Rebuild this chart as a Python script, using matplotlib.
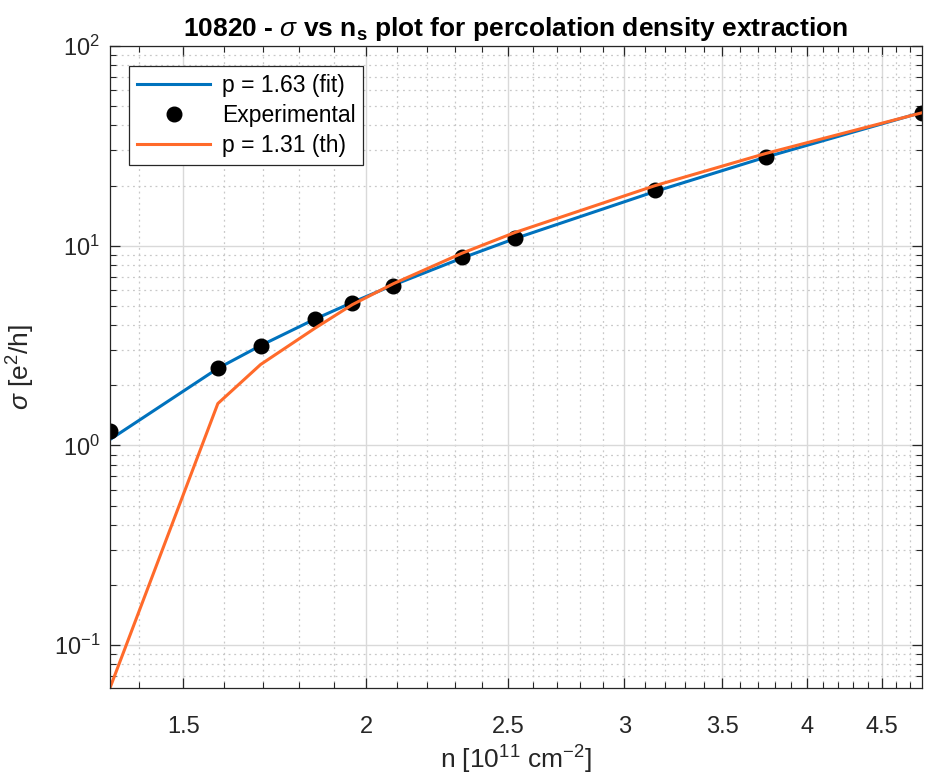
import matplotlib
matplotlib.use("Agg")
import matplotlib.pyplot as plt
from matplotlib.ticker import FixedLocator, FixedFormatter, LogLocator, NullFormatter

plt.rcParams['font.family'] = ['Liberation Sans', 'DejaVu Sans']
plt.rcParams['mathtext.fontset'] = 'custom'
plt.rcParams['mathtext.rm'] = 'Liberation Sans'
plt.rcParams['mathtext.it'] = 'Liberation Sans:italic'
plt.rcParams['mathtext.bf'] = 'Liberation Sans:bold'

# Carrier density [1e11 cm^-2]
n_s = [1.337, 1.584, 1.694, 1.844, 1.957, 2.087, 2.324, 2.527, 3.15, 3.75, 4.79]
# Measured conductivity [e^2/h]
sigma_exp = [1.175, 2.43, 3.13, 4.27, 5.19, 6.31, 8.81, 10.96, 19.05, 27.9, 46.2]
# Percolation fit, p = 1.63
sigma_fit = [1.07, 2.43, 3.16, 4.28, 5.20, 6.35, 8.66, 10.86, 18.7, 27.8, 46.5]
# Theoretical exponent, p = 1.31
sigma_th = [0.061, 1.62, 2.54, 3.85, 5.07, 6.45, 9.16, 11.65, 20.0, 29.0, 46.3]

x_ticks = [1.5, 2, 2.5, 3, 3.5, 4, 4.5]
x_tick_labels = ['1.5', '2', '2.5', '3', '3.5', '4', '4.5']

dark = '#262626'
fig = plt.figure(figsize=(9.28, 7.78), dpi=100)
ax = fig.add_axes([0.1185, 0.1157, 0.8750, 0.8252])

ax.plot(n_s, sigma_fit, color='#0072BD', lw=2.2, label='p = 1.63 (fit)')
ax.plot(n_s, sigma_exp, 'o', color='black', ms=10.5, label='Experimental')
ax.plot(n_s, sigma_th, color='#FF6A2A', lw=2.2, label='p = 1.31 (th)')

ax.set_xscale('log')
ax.set_yscale('log')
ax.set_xlim(n_s[0], n_s[-1])
ax.set_ylim(0.061, 100)

ax.xaxis.set_major_locator(FixedLocator(x_ticks))
ax.xaxis.set_major_formatter(FixedFormatter(x_tick_labels))
minor_x = [round(1.4 + 0.1 * i, 1) for i in range(34)]
minor_x = [v for v in minor_x if v not in x_ticks and v <= 4.8]
ax.xaxis.set_minor_locator(FixedLocator(minor_x))
ax.xaxis.set_minor_formatter(NullFormatter())
ax.yaxis.set_major_locator(LogLocator(base=10, numticks=10))
ax.yaxis.set_minor_locator(LogLocator(base=10, subs=range(2, 10), numticks=20))
ax.yaxis.set_minor_formatter(NullFormatter())

ax.grid(True, which='major', color='#d9d9d9', lw=1.0, ls='-')
ax.grid(True, which='minor', color='#c8c8c8', lw=0.9, ls=(0, (1.5, 3)))
ax.set_axisbelow(True)

ax.tick_params(which='both', direction='in', top=True, right=True, colors=dark,
               labelcolor=dark, labelsize=17)
ax.tick_params(which='major', length=7, width=0.9)
ax.tick_params(which='minor', length=4, width=0.8)
ax.tick_params(axis='x', which='major', pad=20)
ax.tick_params(axis='y', which='major', pad=7)
for s in ax.spines.values():
    s.set_color(dark)
    s.set_linewidth(0.9)

ax.set_xlabel('n [10$^{11}$ cm$^{-2}$]', fontsize=19, color=dark, labelpad=4)
ax.set_ylabel(r'$\sigma$ [e$^2$/h]', fontsize=19, color=dark, labelpad=12)
ax.set_title(r'10820 - $\sigma$ vs n$_\mathbf{s}$ plot for percolation density extraction',
             fontsize=19, fontweight='bold', color='black', pad=7)

leg = ax.legend(loc='upper left', bbox_to_anchor=(0.0234, 0.969), borderaxespad=0,
                fontsize=16.5, frameon=True, fancybox=False, edgecolor=dark,
                framealpha=1, handlelength=3.2, borderpad=0.35, labelspacing=0.3,
                handletextpad=0.5)
leg.get_frame().set_linewidth(0.9)

fig.savefig('out.png', dpi=100)
